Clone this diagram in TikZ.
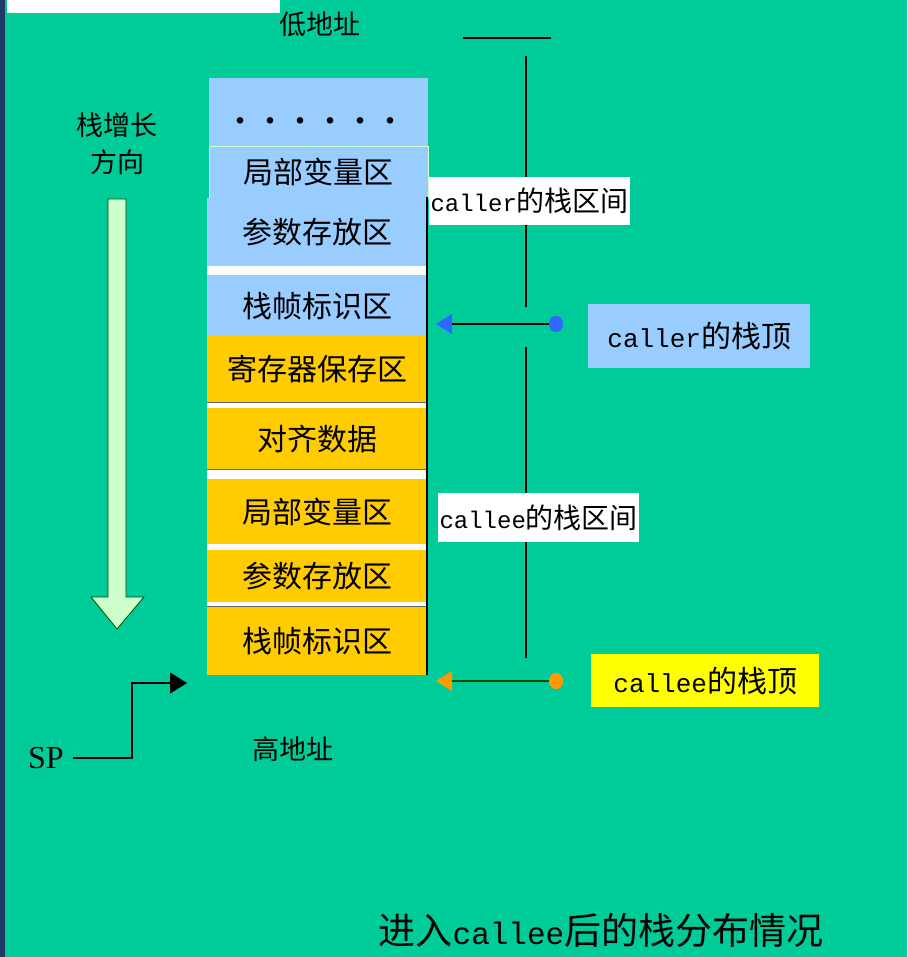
\documentclass[tikz,border=0pt]{standalone}
\usepackage{fontspec}
\setmainfont{Noto Sans CJK SC}
\newfontfamily\monof{Liberation Mono}
\newfontfamily\seriff{Liberation Serif}
\usetikzlibrary{arrows.meta,shapes.geometric}
\definecolor{bggreen}{HTML}{00CC99}
\definecolor{boxblue}{HTML}{99CCFF}
\definecolor{boxorange}{HTML}{FFCC00}
\definecolor{boxyellow}{HTML}{FFFF00}
\definecolor{arrowfill}{HTML}{CCFFCC}
\definecolor{dotblue}{HTML}{3366FF}
\definecolor{dotorange}{HTML}{FF9900}
\definecolor{navy}{HTML}{1F3A68}
\tikzset{
  cell/.style={draw=none, minimum width=220pt, inner sep=0pt, anchor=north west, font=\fontsize{30}{30}\selectfont},
  bluecell/.style={cell, fill=boxblue},
  orangecell/.style={cell, fill=boxorange},
  plain/.style={inner sep=0pt, font=\fontsize{27}{27}\selectfont},
  whitelabel/.style={fill=white, inner sep=0pt, anchor=north west, font=\fontsize{28}{28}\selectfont},
  toplabel/.style={inner sep=0pt, anchor=north west, font=\fontsize{30}{30}\selectfont},
  topdot/.style={ellipse, minimum width=14pt, minimum height=16pt, inner sep=0pt},
  guide/.style={line width=1.3pt, black},
}
\begin{document}
\begin{tikzpicture}[x=1pt,y=-1pt]
\useasboundingbox (0,0) rectangle (907,957);
\fill[bggreen] (0,0) rectangle (907,957);
\fill[navy] (0,0) rectangle (5,957);
\fill[white] (7,0) rectangle (280,13);

% address labels
\node[plain] (low) at (320,24) {低地址};
\node[plain] (high) at (293,749) {高地址};

% growth direction
\node[plain] (grow1) at (117,125) {栈增长};
\node[plain] (grow2) at (117,162) {方向};
\draw[fill=arrowfill, draw=black!70!green, line width=0.8pt]
  (108,199) -- (126,199) -- (126,597) -- (144,597) -- (117,629) -- (91,597) -- (108,597) -- cycle;

% guide line
\draw[guide] (463,38) -- (551,38);
\draw[guide] (526,56) -- (526,307);
\draw[guide] (526,347) -- (526,658);

% stack background (white gaps)
\fill[white] (207,266) rectangle (427,607);
\node[bluecell, minimum width=219pt, minimum height=68pt] (dots) at (209,78) {};
\node[font=\fontsize{40}{40}\selectfont\seriff\bfseries, inner sep=0pt] (dotstext) at (315,121) {.\hspace{20pt}.\hspace{20pt}.\hspace{20pt}.\hspace{20pt}.\hspace{20pt}.};
\node[bluecell, minimum width=219pt, minimum height=52pt, draw=arrowfill, line width=0.8pt] (loc1) at (209,146) {局部变量区};
\node[bluecell, minimum height=68pt] (par1) at (207,198) {参数存放区};
\node[bluecell, minimum height=61pt] (frm1) at (207,275) {栈帧标识区};
\node[orangecell, minimum height=66pt] (reg) at (207,336) {寄存器保存区};
\node[orangecell, minimum height=61pt] (ali) at (207,408) {对齐数据};
\node[orangecell, minimum height=65pt] (loc2) at (207,479) {局部变量区};
\node[orangecell, minimum height=52pt] (par2) at (207,550) {参数存放区};
\node[orangecell, minimum height=68pt] (frm2) at (207,607) {栈帧标识区};
\draw[black!60, line width=1pt] (207,402.5) -- (427,402.5);
\draw[black!60, line width=1pt] (207,469.5) -- (427,469.5);
\draw[black!60, line width=1pt] (207,606.5) -- (427,606.5);
\draw[black, line width=1.2pt] (427,197) -- (427,675);

% interval labels
\node[whitelabel, minimum width=201pt, minimum height=48pt] (callerint) at (429,177) {{\monof\fontsize{24}{24}\selectfont caller}的栈区间};
\node[whitelabel, minimum width=201pt, minimum height=49pt] (calleeint) at (438,493) {{\monof\fontsize{24}{24}\selectfont callee}的栈区间};

% top-of-stack labels
\node[toplabel, fill=boxblue, minimum width=222pt, minimum height=64pt] (callertop) at (588,304) {{\monof\fontsize{26}{26}\selectfont caller}的栈顶};
\node[toplabel, fill=boxyellow, minimum width=228pt, minimum height=53pt] (calleetop) at (591,654) {{\monof\fontsize{26}{26}\selectfont callee}的栈顶};

% pointers
\node[topdot, fill=dotblue] (bdot) at (556,324) {};
\coordinate (btip) at (436,324);
\draw[line width=1.3pt, -{Triangle[length=16pt, width=20pt, color=dotblue]}] (bdot.center) -- (btip);
\node[topdot, fill=dotblue] at (bdot) {};
\node[topdot, fill=dotorange] (odot) at (556,681) {};
\coordinate (otip) at (436,681);
\draw[line width=1.3pt, black!70!green, -{Triangle[length=16pt, width=20pt, color=dotorange]}] (odot.center) -- (otip);
\node[topdot, fill=dotorange] at (odot) {};

% SP pointer
\node[inner sep=0pt, font=\fontsize{32}{32}\selectfont\seriff] (sp) at (46,758) {SP};
\coordinate (sptip) at (187,683);
\draw[line width=1.2pt, -{Triangle[length=17pt, width=21pt]}] ([xshift=9pt]sp.east) -- (132,758) -- (132,683) -- (sptip);

% title
\node[inner sep=0pt, font=\fontsize{37}{37}\selectfont] (title) at (601,930) {进入{\monof\fontsize{31}{31}\selectfont callee}后的栈分布情况};
\end{tikzpicture}
\end{document}
